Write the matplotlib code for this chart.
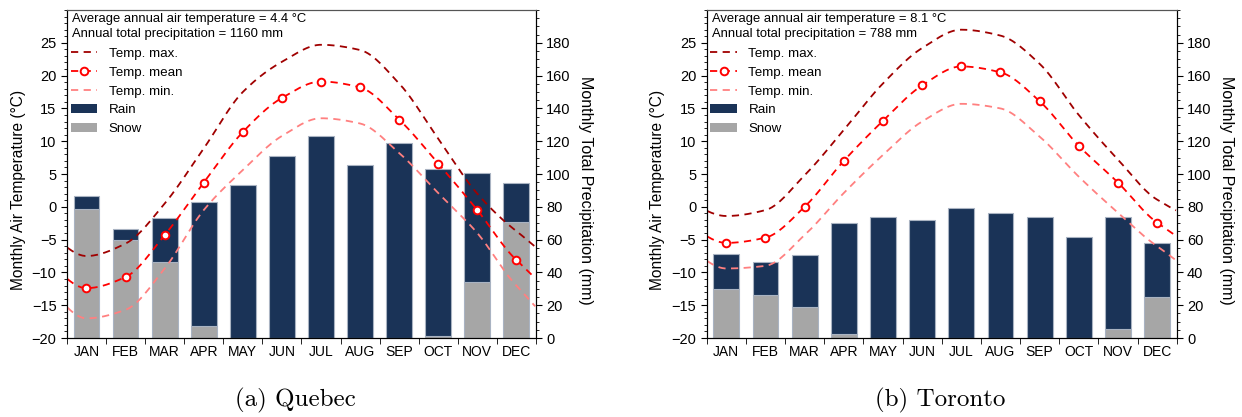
import numpy as np
import matplotlib
matplotlib.use("Agg")
import matplotlib.pyplot as plt
from matplotlib.ticker import MultipleLocator, FixedLocator
from matplotlib.lines import Line2D
from matplotlib.patches import Patch

plt.rcParams["font.family"] = ["Liberation Sans", "DejaVu Sans"]

months = ["JAN", "FEB", "MAR", "APR", "MAY", "JUN", "JUL", "AUG", "SEP", "OCT", "NOV", "DEC"]

# Quebec
qc_tmax = [-7.5, -5.6, 0.5, 8.9, 17.5, 22.1, 24.7, 23.9, 18.8, 10.4, 2.0, -3.7]
qc_tmean = [-12.4, -10.7, -4.3, 3.7, 11.4, 16.6, 19.1, 18.2, 13.3, 6.6, -0.5, -8.1]
qc_tmin = [-17.0, -15.7, -9.4, -0.5, 5.6, 10.8, 13.5, 12.7, 8.2, 2.1, -4.0, -12.0]
qc_snow = [78.6, 59.8, 46.6, 7.5, 0, 0, 0, 0, 0, 1.4, 34.2, 70.8]
qc_rain = [8.1, 6.8, 26.3, 75.7, 93.4, 110.7, 122.9, 105.6, 118.9, 101.8, 66.4, 23.7]

# Toronto
to_tmax = [-1.4, -0.5, 4.8, 11.7, 18.8, 24.2, 27.0, 26.1, 21.8, 14.0, 7.2, 1.1]
to_tmean = [-5.5, -4.7, 0.0, 7.0, 13.1, 18.5, 21.4, 20.5, 16.1, 9.3, 3.7, -2.4]
to_tmin = [-9.4, -9.0, -4.3, 2.1, 7.9, 13.0, 15.7, 15.0, 10.7, 4.6, -0.9, -6.0]
to_snow = [29.9, 26.1, 19.1, 2.4, 0, 0, 0, 0, 0, 0, 5.7, 24.8]
to_rain = [21.4, 20.5, 31.6, 67.6, 73.5, 72.1, 79.0, 76.5, 73.7, 61.9, 68.0, 33.2]

c_rain = "#1a3357"
c_snow = "#a6a6a6"
c_max = "#a00000"
c_mean = "#ff0000"
c_min = "#ff8080"


def smooth(y):
    # periodic piecewise-cubic (no overshoot) just for drawing the curve
    y = np.asarray(y, dtype=float)
    n = len(y)
    d = np.roll(y, -1) - y
    dp = y - np.roll(y, 1)
    m = np.zeros(n)
    ok = d * dp > 0
    m[ok] = 2 * d[ok] * dp[ok] / (d[ok] + dp[ok])
    xs, ys = [], []
    for i in range(-1, n):
        i0, i1 = i % n, (i + 1) % n
        t = np.linspace(0, 1, 30)
        h00 = 2 * t**3 - 3 * t**2 + 1
        h10 = t**3 - 2 * t**2 + t
        h01 = -2 * t**3 + 3 * t**2
        h11 = t**3 - t**2
        xs.append(i + 1 + t)
        ys.append(h00 * y[i0] + h10 * m[i0] + h01 * y[i1] + h11 * m[i1])
    xs = np.concatenate(xs)
    ys = np.concatenate(ys)
    keep = (xs >= 0.5) & (xs <= 12.5)
    return xs[keep], ys[keep]


def draw(ax, tmax, tmean, tmin, snow, rain, avg_t, tot_p):
    x = np.arange(1, 13)
    ax2 = ax.twinx()
    ax2.bar(x, snow, width=0.66, color=c_snow, edgecolor="#a9b3c2", linewidth=0.8)
    ax2.bar(x, rain, width=0.66, bottom=snow, color=c_rain, edgecolor="#a9b3c2", linewidth=0.8)
    ax2.set_ylim(0, 200)
    ax2.yaxis.set_major_locator(FixedLocator(np.arange(0, 181, 20)))
    ax2.yaxis.set_minor_locator(MultipleLocator(5))
    ax2.set_ylabel("Monthly Total Precipitation (mm)", rotation=270, labelpad=16, fontsize=11.5)
    ax2.yaxis.set_label_coords(1.122, 0.45)

    ax.set_zorder(ax2.get_zorder() + 1)
    ax.patch.set_visible(False)

    xs, ys = smooth(tmax)
    ax.plot(xs, ys, color=c_max, ls=(0, (4, 3)), lw=1.3)
    xs, ys = smooth(tmean)
    ax.plot(xs, ys, color=c_mean, ls=(0, (4, 3)), lw=1.3)
    ax.plot(x, tmean, ls="none", marker="o", ms=5.5, mfc="white", mec=c_mean, mew=1.4)
    xs, ys = smooth(tmin)
    ax.plot(xs, ys, color=c_min, ls=(0, (4, 3)), lw=1.3)

    ax.set_xlim(0.5, 12.5)
    ax.set_ylim(-20, 30)
    ax.yaxis.set_major_locator(FixedLocator(np.arange(-20, 26, 5)))
    ax.yaxis.set_minor_locator(MultipleLocator(1))
    ax.set_xticks(x)
    ax.set_xticklabels(months)
    ax.xaxis.set_minor_locator(FixedLocator(np.arange(0.5, 12.6, 1)))
    ax.tick_params(axis="x", which="major", length=0, labelsize=10, pad=5)
    ax.tick_params(axis="x", which="minor", length=4, direction="out")
    ax.tick_params(axis="y", which="major", length=4, labelsize=10.5)
    ax.tick_params(axis="y", which="minor", length=2)
    ax2.tick_params(axis="y", which="major", length=4, labelsize=10.5)
    ax2.tick_params(axis="y", which="minor", length=2)
    ax.set_ylabel("Monthly Air Temperature (°C)", fontsize=11.2)
    ax.yaxis.set_label_coords(-0.088, 0.45)

    for a in (ax, ax2):
        a.spines["top"].set_color("#555555")
        for s in ("left", "right", "bottom"):
            a.spines[s].set_color("black")

    ax.text(0.011, 0.99, f"Average annual air temperature = {avg_t} °C\nAnnual total precipitation = {tot_p} mm",
            transform=ax.transAxes, va="top", ha="left", fontsize=9.4, linespacing=1.3)

    handles = [
        Line2D([], [], color=c_max, ls=(0, (4, 3)), lw=1.3),
        Line2D([], [], color=c_mean, ls=(0, (4, 3)), lw=1.3, marker="o", ms=5.5, mfc="white", mec=c_mean, mew=1.4),
        Line2D([], [], color=c_min, ls=(0, (4, 3)), lw=1.3),
        Patch(facecolor=c_rain),
        Patch(facecolor=c_snow),
    ]
    ax.legend(handles, ["Temp. max.", "Temp. mean", "Temp. min.", "Rain", "Snow"],
              loc="upper left", bbox_to_anchor=(0.008, 0.885), frameon=False, fontsize=9.6,
              handlelength=2.0, handletextpad=0.85, labelspacing=0.48, borderpad=0, borderaxespad=0)


fig = plt.figure(figsize=(12.42, 4.17), dpi=100)
ax_a = fig.add_axes([0.0539, 0.1894, 0.3776, 0.7866])
ax_b = fig.add_axes([0.569, 0.1894, 0.3784, 0.7866])

draw(ax_a, qc_tmax, qc_tmean, qc_tmin, qc_snow, qc_rain, 4.4, 1160)
draw(ax_b, to_tmax, to_tmean, to_tmin, to_snow, to_rain, 8.1, 788)

fig.text(0.2375, 0.04, "(a) Quebec", family="cmr10", fontsize=18, ha="center", va="center")
fig.text(0.757, 0.04, "(b) Toronto", family="cmr10", fontsize=18, ha="center", va="center")

fig.savefig("out.png", dpi=100)
